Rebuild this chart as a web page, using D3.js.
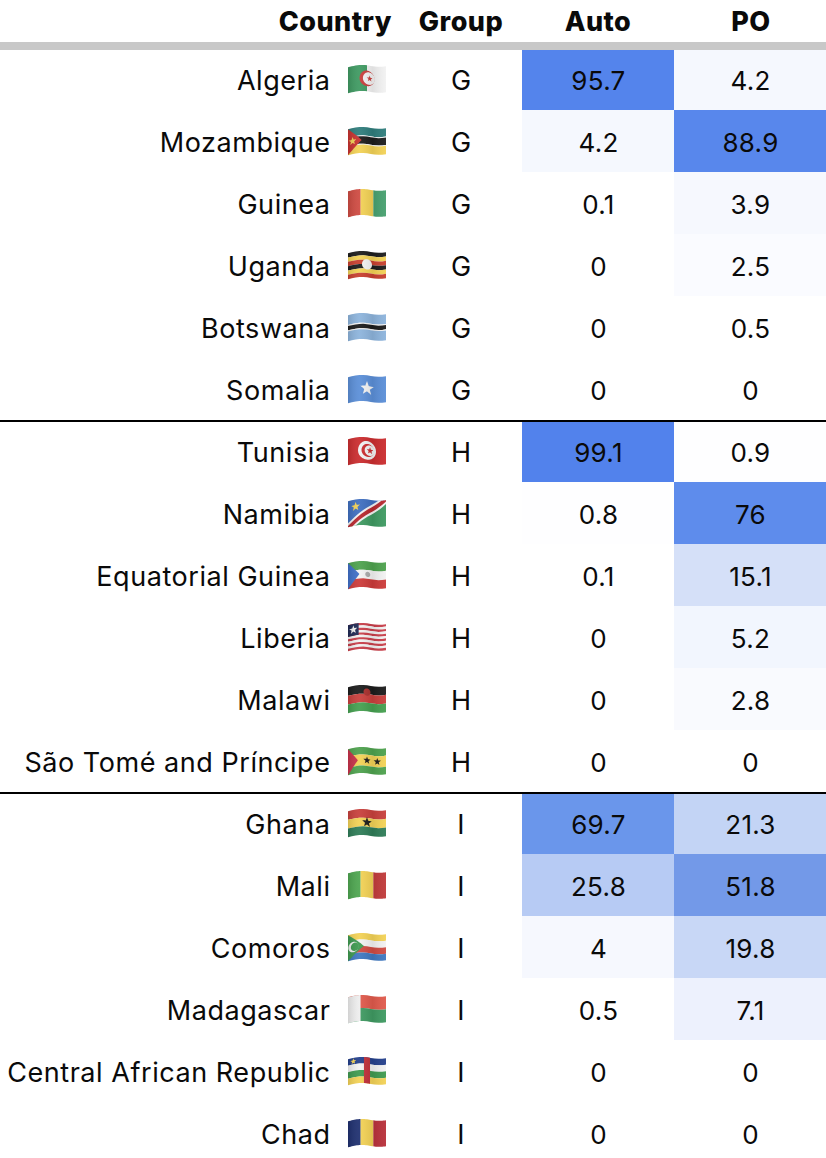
<!DOCTYPE html>
<html>
<head>
<meta charset="utf-8">
<script src="https://cdn.jsdelivr.net/npm/d3@7"></script>
<style>
  body { margin: 0; background: #fff; }
  svg { display: block; }
  text { font-family: Inter, "Open Sans", sans-serif; fill: #0a0a0a; }
</style>
</head>
<body>
<script>
const countries = ["Algeria","Mozambique","Guinea","Uganda","Botswana","Somalia",
  "Tunisia","Namibia","Equatorial Guinea","Liberia","Malawi","São Tomé and Príncipe",
  "Ghana","Mali","Comoros","Madagascar","Central African Republic","Chad"];
const groups = ["G","G","G","G","G","G","H","H","H","H","H","H","I","I","I","I","I","I"];
const autoValues = [95.7,4.2,0.1,0,0,0,99.1,0.8,0.1,0,0,0,69.7,25.8,4,0.5,0,0];
const poValues = [4.2,88.9,3.9,2.5,0.5,0,0.9,76,15.1,5.2,2.8,0,21.3,51.8,19.8,7.1,0,0];
const valueColumns = ["Auto","PO"];

const width = 826, height = 1158;
const headerLine = 48, rowH = 62;

const y = d3.scaleBand().domain(countries).range([headerLine, headerLine + rowH * countries.length]);
const x = d3.scaleBand().domain(valueColumns).range([522, 826]);
const color = d3.scaleLinear()
  .domain([0, 0.5, 5, 15, 25, 52, 70, 76, 100])
  .range(["#ffffff","#ffffff","#f3f6fe","#d5e0f8","#b9cdf4","#7299e8","#6a96eb","#5e8cec","#5282ec"]);

const svg = d3.select("body").append("svg").attr("width", width).attr("height", height);

// gloss over the flags
const grad = svg.append("defs").append("linearGradient").attr("id", "gloss");
[[0,"#000",0.12],[0.3,"#fff",0.06],[0.65,"#000",0.08],[1,"#fff",0.05]].forEach(s => {
  grad.append("stop").attr("offset", s[0]).attr("stop-color", s[1]).attr("stop-opacity", s[2]);
});

// value cells
valueColumns.forEach(col => {
  const vals = col === "Auto" ? autoValues : poValues;
  const g = svg.append("g");
  g.selectAll("rect").data(countries).enter().append("rect")
    .attr("x", x(col)).attr("y", d => y(d))
    .attr("width", x.bandwidth()).attr("height", y.bandwidth())
    .attr("fill", (d, i) => color(vals[i]));
  g.selectAll("text").data(countries).enter().append("text")
    .attr("x", x(col) + x.bandwidth() / 2 + 0.5).attr("y", d => y(d) + rowH / 2 + 1)
    .attr("text-anchor", "middle").attr("dominant-baseline", "central")
    .attr("font-size", 26).attr("letter-spacing", 0.3)
    .text((d, i) => vals[i]);
});

// country names and group letters
svg.append("g").selectAll("text").data(countries).enter().append("text")
  .attr("x", 330.5).attr("y", d => y(d) + rowH / 2 + 1)
  .attr("text-anchor", "end").attr("dominant-baseline", "central")
  .attr("font-size", 27).attr("letter-spacing", 0.55)
  .text(d => d);
svg.append("g").selectAll("text").data(countries).enter().append("text")
  .attr("x", 461).attr("y", d => y(d) + rowH / 2 + 1)
  .attr("text-anchor", "middle").attr("dominant-baseline", "central")
  .attr("font-size", 27)
  .text((d, i) => groups[i]);

// header
[["Country",392,"end"],["Group",461,"middle"],["Auto",598,"middle"],["PO",751,"middle"]].forEach(h => {
  svg.append("text").attr("x", h[1]).attr("y", 31).attr("text-anchor", h[2])
    .attr("font-size", 27).attr("font-weight", 800).attr("letter-spacing", 0.5).text(h[0]);
});

svg.append("rect").attr("x", 0).attr("y", 42).attr("width", width).attr("height", 8).attr("fill", "#c8c8c8");

// black rules between groups
const breaks = countries.filter((d, i) => i > 0 && groups[i] !== groups[i - 1]);
svg.append("g").selectAll("rect").data(breaks).enter().append("rect")
  .attr("x", 0).attr("y", d => y(d)).attr("width", width).attr("height", 2).attr("fill", "#000");

// ---- flags: little wavy emoji drawn from uv shapes ----
const flagW = 38, flagH = 26;
function warp(u, v) {
  return [u * flagW, v * flagH - 1.2 * Math.sin(u * Math.PI * 2 - 0.6) - 1.0 * u];
}
function polyPath(pts) {
  const out = [];
  pts.forEach((p, i) => {
    const q = pts[(i + 1) % pts.length];
    for (let k = 0; k < 10; k++) {
      const t = k / 10;
      out.push(warp(p[0] + (q[0] - p[0]) * t, p[1] + (q[1] - p[1]) * t));
    }
  });
  return d3.line()(out) + "Z";
}
const hBands = (cols, weights) => {
  const w = weights || cols.map(() => 1), tot = d3.sum(w);
  let acc = 0;
  return cols.map((c, i) => { const a = acc / tot; acc += w[i]; return ["p", c, [[0,a],[1,a],[1,acc/tot],[0,acc/tot]]]; });
};
const vBands = cols => cols.map((c, i) => ["p", c, [[i/cols.length,0],[(i+1)/cols.length,0],[(i+1)/cols.length,1],[i/cols.length,1]]]);
const ring = (c, cx, cy, r) => ["p", c, d3.range(24).map(a => [cx + r * 0.66 * Math.cos(a / 24 * 2 * Math.PI), cy + r * Math.sin(a / 24 * 2 * Math.PI)])];
const star = (c, cx, cy, r) => ["p", c, d3.range(10).map(a => {
  const rr = a % 2 ? r * 0.42 : r, t = a / 10 * 2 * Math.PI - Math.PI / 2;
  return [cx + rr * 0.66 * Math.cos(t), cy + rr * Math.sin(t)];
})];
const tri = (c, tip) => ["p", c, [[0,0],[tip,0.5],[0,1]]];

const RED = "#c93f3c", GRN = "#3f9a62", YEL = "#f3d256", BLK = "#1c1c1c", WHT = "#f2f2f2";
const flagShapes = {
  "Algeria": [...vBands([GRN, WHT]), ring(RED,0.5,0.5,0.3), ring(WHT,0.55,0.5,0.24), star(RED,0.57,0.5,0.12)],
  "Mozambique": [...hBands(["#2f7d7c",WHT,BLK,WHT,YEL],[9,1,8,1,9]), tri("#c8322f",0.36), star(YEL,0.12,0.5,0.16)],
  "Guinea": vBands(["#cf4b42",YEL,"#47a06f"]),
  "Uganda": [...hBands([BLK,YEL,"#c8402f",BLK,YEL,"#c8402f"]), ring(WHT,0.5,0.5,0.2)],
  "Botswana": hBands(["#8db4dc",WHT,BLK,WHT,"#8db4dc"],[9,1,4,1,9]),
  "Somalia": [...hBands(["#5b8fd8"]), star(WHT,0.5,0.5,0.28)],
  "Tunisia": [...hBands(["#cb2d2f"]), ring(WHT,0.5,0.5,0.36), ring("#cb2d2f",0.52,0.5,0.25), ring(WHT,0.57,0.5,0.2), star("#cb2d2f",0.58,0.5,0.14)],
  "Namibia": [["p","#3f6fc0",[[0,0],[1,0],[0,1]]], ["p","#3f9a62",[[1,0],[1,1],[0,1]]],
    ["p",WHT,[[0,0.85],[0.8,0],[1,0],[1,0.15],[0.2,1],[0,1]]], ["p","#b8292f",[[0,0.95],[0.88,0],[1,0],[1,0.05],[0.12,1],[0,1]]], star(YEL,0.2,0.27,0.18)],
  "Equatorial Guinea": [...hBands(["#4ea24e",WHT,"#cc3b3a"]), tri("#3f6fc8",0.3), ring("#aaa",0.52,0.5,0.1)],
  "Liberia": [...hBands(d3.range(11).map(i => i % 2 ? WHT : "#c93f4a")), ["p","#1f2a55",[[0,0],[0.28,0],[0.28,0.45],[0,0.45]]], star(WHT,0.14,0.22,0.17)],
  "Malawi": [...hBands([BLK,"#c93f3c","#45a050"]), ring("#a8302e",0.5,0.26,0.14)],
  "São Tomé and Príncipe": [...hBands(["#4ea24e",YEL,"#4ea24e"],[2,3,2]), tri("#c8324a",0.26), star(BLK,0.5,0.5,0.15), star(BLK,0.77,0.5,0.15)],
  "Ghana": [...hBands(["#c8403c",YEL,"#2f7d58"]), star(BLK,0.5,0.5,0.2)],
  "Mali": vBands(["#4ea650",YEL,"#c03a3a"]),
  "Comoros": [...hBands([YEL,WHT,"#cf4a42","#3f78c0"]), tri("#3f9a50",0.42), ring(WHT,0.14,0.5,0.2), ring("#3f9a50",0.18,0.5,0.16)],
  "Madagascar": [...hBands(["#e05a4c","#3f9a62"]), ["p","#eeeeee",[[0,0],[0.33,0],[0.33,1],[0,1]]]],
  "Central African Republic": [...hBands(["#24408c",WHT,"#3f9a50",YEL]), ["p","#c0303a",[[0.42,0],[0.58,0],[0.58,1],[0.42,1]]], star(YEL,0.14,0.13,0.12)],
  "Chad": vBands(["#1f3070",YEL,"#b8303a"])
};

const flagG = svg.append("g").selectAll("g").data(countries).enter().append("g")
  .attr("transform", d => "translate(348," + (y(d) + rowH / 2 - flagH / 2 + 0.5) + ")");
flagG.each(function(d) {
  const g = d3.select(this);
  flagShapes[d].forEach(s => g.append("path").attr("d", polyPath(s[2])).attr("fill", s[1]));
  g.append("path").attr("d", polyPath([[0,0],[1,0],[1,1],[0,1]])).attr("fill", "url(#gloss)");
});
</script>
</body>
</html>
